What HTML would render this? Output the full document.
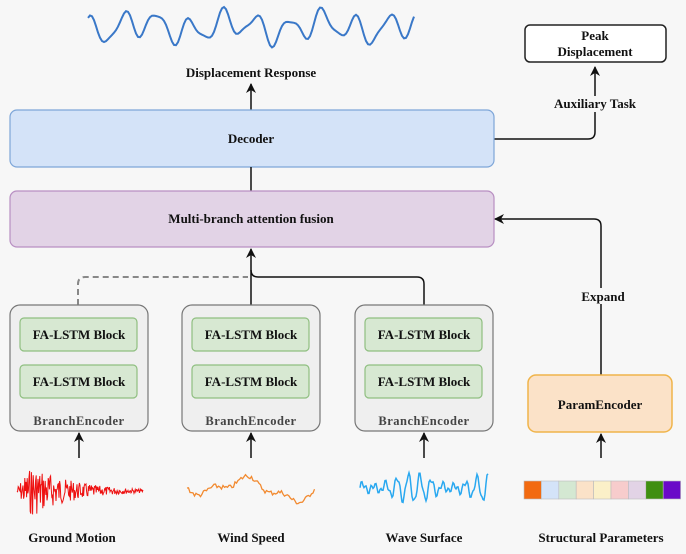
<!DOCTYPE html>
<html><head><meta charset="utf-8"><style>
html,body{margin:0;padding:0;background:#f7f7f7;}
body{width:686px;height:549px;overflow:hidden;}
svg text{font-family:"Liberation Serif",serif;font-weight:bold;fill:#111;}
</style></head><body>
<svg id="s" width="686" height="549" viewBox="0 0 686 549" xmlns="http://www.w3.org/2000/svg">
<defs><marker id="a" markerWidth="10" markerHeight="10" refX="9" refY="5" orient="auto" markerUnits="userSpaceOnUse"><path d="M0,0 L10,5 L0,10 L3,5 z" fill="#111"/></marker></defs>
<rect width="686" height="549" fill="#f7f7f7"/>
<path id="disp" fill="none" stroke="#3a78c8" stroke-width="2"/>
<text x="251" y="77" font-size="13" text-anchor="middle">Displacement Response</text>
<line x1="251" y1="110" x2="251" y2="84" stroke="#111" stroke-width="1.5" marker-end="url(#a)"/>
<rect x="525" y="25" width="141" height="37" rx="5" fill="#fff" stroke="#222" stroke-width="1.5"/>
<text x="595" y="40" font-size="13" text-anchor="middle">Peak</text>
<text x="595" y="56" font-size="13" text-anchor="middle">Displacement</text>
<path d="M494,139 H588 Q595,139 595,132 V112" fill="none" stroke="#111" stroke-width="1.5"/>
<line x1="595" y1="96" x2="595" y2="67" stroke="#111" stroke-width="1.5" marker-end="url(#a)"/>
<text x="595" y="108" font-size="13" text-anchor="middle">Auxiliary Task</text>
<rect x="10" y="110" width="484" height="57" rx="7" fill="#d4e3f8" stroke="#7ea6d8" stroke-width="1.2"/>
<text x="251" y="143" font-size="13" text-anchor="middle">Decoder</text>
<line x1="251" y1="167" x2="251" y2="191" stroke="#111" stroke-width="1.5"/>
<rect x="10" y="191" width="484" height="56" rx="7" fill="#e2d3e6" stroke="#b88fc2" stroke-width="1.2"/>
<text x="251" y="223" font-size="13" text-anchor="middle">Multi-branch attention fusion</text>
<path d="M601,375 V226 Q601,219 594,219 H495" fill="none" stroke="#111" stroke-width="1.5" marker-end="url(#a)"/>
<rect x="590" y="288" width="24" height="16" fill="#f7f7f7"/>
<text x="603" y="301" font-size="13" text-anchor="middle">Expand</text>
<path d="M78,305 V284 Q78,277 85,277 H248" fill="none" stroke="#888" stroke-width="2" stroke-dasharray="6,4"/>
<path d="M424,305 V284 Q424,277 417,277 H258 Q251,277 251,270" fill="none" stroke="#111" stroke-width="1.5"/>
<line x1="251" y1="305" x2="251" y2="249" stroke="#111" stroke-width="1.5" marker-end="url(#a)"/>
<g id="br"></g>
<rect x="528" y="375" width="144" height="57" rx="8" fill="#fbe2c8" stroke="#f0b44a" stroke-width="1.5"/>
<text x="600" y="409" font-size="13" text-anchor="middle">ParamEncoder</text>
<line x1="601" y1="458" x2="601" y2="434" stroke="#111" stroke-width="1.5" marker-end="url(#a)"/>
<g id="sq"></g>
<path id="gm" fill="none" stroke="#ee1111" stroke-width="1"/>
<path id="ws" fill="none" stroke="#f28a30" stroke-width="1.3"/>
<path id="wv" fill="none" stroke="#29a8f0" stroke-width="1.5"/>
<text x="72" y="542" font-size="13" text-anchor="middle">Ground Motion</text>
<text x="251" y="542" font-size="13" text-anchor="middle">Wind Speed</text>
<text x="424" y="542" font-size="13" text-anchor="middle">Wave Surface</text>
<text x="601" y="542" font-size="13" text-anchor="middle">Structural Parameters</text>
</svg>
<script>
var NS="http://www.w3.org/2000/svg";
function el(p,t,a,txt){var e=document.createElementNS(NS,t);for(var k in a)e.setAttribute(k,a[k]);if(txt)e.textContent=txt;p.appendChild(e);return e;}
var br=document.getElementById("br");
[10,182,355].forEach(function(x){
 var c=x+69;
 el(br,"rect",{x:x,y:305,width:138,height:126,rx:10,fill:"#efefef",stroke:"#777","stroke-width":1.2});
 el(br,"rect",{x:x+10,y:318,width:117,height:33,rx:4,fill:"#d7e8d2",stroke:"#8fbf80","stroke-width":1.2});
 el(br,"rect",{x:x+10,y:365,width:117,height:33,rx:4,fill:"#d7e8d2",stroke:"#8fbf80","stroke-width":1.2});
 el(br,"text",{x:c,y:339,"font-size":13,"text-anchor":"middle"},"FA-LSTM Block");
 el(br,"text",{x:c,y:386,"font-size":13,"text-anchor":"middle"},"FA-LSTM Block");
 el(br,"text",{x:c,y:425,"font-size":12.5,"text-anchor":"middle",style:"fill:#444;letter-spacing:0.5px"},"BranchEncoder");
 el(br,"line",{x1:c,y1:458,x2:c,y2:433,stroke:"#111","stroke-width":1.5,"marker-end":"url(#a)"});
});
var cols=["#f26a10","#d4e3f8","#d4e8d2","#fbe2c8","#fbf0c8","#f7cccc","#e2d3e6","#3f8f10","#6a0ac8"];
var sq=document.getElementById("sq");
cols.forEach(function(c,i){el(sq,"rect",{x:524+i*17.4,y:481,width:17.4,height:18,fill:c,stroke:"#bbb","stroke-width":0.6});});
var seed=7;function r(){seed=(seed*9301+49297)%233280;return seed/233280;}
var d="";for(var x=88;x<=415;x+=2){var y=27+12*Math.sin(x*0.19)+5*Math.sin(x*0.07+1)+4*Math.sin(x*0.33);d+=(x==88?"M":"L")+x+","+y.toFixed(1);}
document.getElementById("disp").setAttribute("d",d);
d="";for(var x=17;x<=143;x+=0.6){var t=(x-17)/126;var env=t<0.12?4+t/0.12*22:26*Math.exp(-(t-0.12)*3.0);var y=491+(r()*2-1)*env;d+=(x==17?"M":"L")+x.toFixed(1)+","+y.toFixed(1);}
document.getElementById("gm").setAttribute("d",d);
d="";for(var x=187;x<=315;x+=1.5){var t=(x-187)/128;var base=483+8*Math.sin(t*9+0.5)+t*10+4*Math.sin(t*23);var y=base+(r()-0.5)*5;d+=(x==187?"M":"L")+x.toFixed(1)+","+y.toFixed(1);}
document.getElementById("ws").setAttribute("d",d);
d="";for(var x=360;x<=488;x+=1){var y=488+14*Math.sin(x*0.55)*(0.6+0.4*Math.sin(x*0.08))+3*Math.sin(x*1.3);d+=(x==360?"M":"L")+x+","+y.toFixed(1);}
document.getElementById("wv").setAttribute("d",d);
</script>
</body></html>
